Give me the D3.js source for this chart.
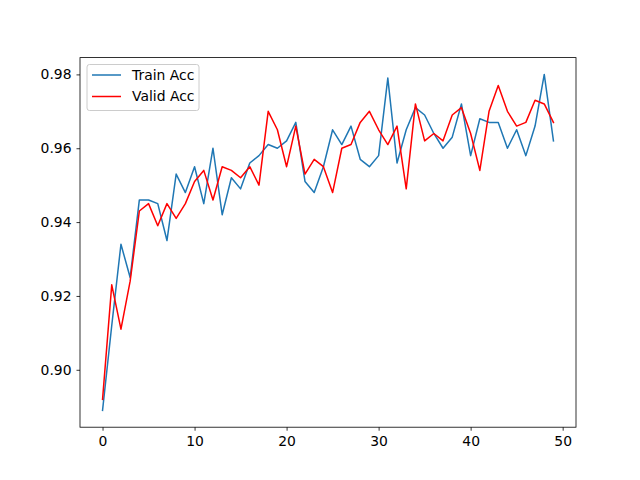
<!DOCTYPE html>
<html>
<head>
<meta charset="utf-8">
<script src="https://cdn.jsdelivr.net/npm/d3@7"></script>
<style>
body { margin: 0; background: #fff; }
svg { display: block; font-family: "DejaVu Sans", sans-serif; }
</style>
</head>
<body>
<svg id="chart" width="640" height="480"></svg>
<script>
const epochs = d3.range(50);
const trainAcc = [0.889, 0.912, 0.934, 0.925, 0.946, 0.946, 0.945, 0.935, 0.953, 0.948,
  0.955, 0.945, 0.960, 0.942, 0.952, 0.949, 0.956, 0.958, 0.961, 0.960,
  0.962, 0.967, 0.951, 0.948, 0.955, 0.965, 0.961, 0.966, 0.957, 0.955,
  0.958, 0.979, 0.956, 0.965, 0.971, 0.969, 0.964, 0.960, 0.963, 0.972,
  0.958, 0.968, 0.967, 0.967, 0.960, 0.965, 0.958, 0.966, 0.980, 0.962];
const validAcc = [0.892, 0.923, 0.911, 0.924, 0.943, 0.945, 0.939, 0.945, 0.941, 0.945,
  0.951, 0.954, 0.946, 0.955, 0.954, 0.952, 0.955, 0.950, 0.970, 0.965,
  0.955, 0.966, 0.953, 0.957, 0.955, 0.948, 0.960, 0.961, 0.967, 0.970,
  0.965, 0.961, 0.966, 0.949, 0.972, 0.962, 0.964, 0.962, 0.969, 0.971,
  0.964, 0.954, 0.970, 0.977, 0.970, 0.966, 0.967, 0.973, 0.972, 0.967];
const xTicks = [0, 10, 20, 30, 40, 50];
const yTicks = [0.90, 0.92, 0.94, 0.96, 0.98];
const seriesNames = ["Train Acc", "Valid Acc"];
const seriesColors = ["#1f77b4", "#ff0000"];

const svg = d3.select("#chart");
const pLeft = 80, pRight = 576, pTop = 57.6, pBottom = 427.2;

const xMin = 0, xMax = 49, xPad = (xMax - xMin) * 0.05;
const allVals = trainAcc.concat(validAcc);
const yMin = d3.min(allVals), yMax = d3.max(allVals), yPad = (yMax - yMin) * 0.05;

const x = d3.scaleLinear().domain([xMin - xPad, xMax + xPad]).range([pLeft, pRight]);
const y = d3.scaleLinear().domain([yMin - yPad, yMax + yPad]).range([pBottom, pTop]);

const line = d3.line().x((d, i) => x(epochs[i])).y(d => y(d));

const series = [trainAcc, validAcc];
series.forEach((s, k) => {
  svg.append("path").datum(s)
    .attr("d", line)
    .attr("fill", "none")
    .attr("stroke", seriesColors[k])
    .attr("stroke-width", 1.5)
    .attr("stroke-linejoin", "round")
    .attr("stroke-linecap", "square");
});

// axes
const xAxis = svg.append("g").attr("transform", `translate(0,${pBottom})`)
  .call(d3.axisBottom(x).tickValues(xTicks).tickFormat(d3.format("d")).tickSize(3.5).tickPadding(5));
const yAxis = svg.append("g").attr("transform", `translate(${pLeft},0)`)
  .call(d3.axisLeft(y).tickValues(yTicks).tickFormat(d3.format(".2f")).tickSize(3.5).tickPadding(5));
[xAxis, yAxis].forEach(g => {
  g.select(".domain").remove();
  g.selectAll("line").attr("stroke", "#000").attr("stroke-width", 0.8);
  g.selectAll("text").attr("font-size", "13.9px").attr("fill", "#000")
    .attr("font-family", "DejaVu Sans, sans-serif");
});

// frame
svg.append("rect").attr("x", pLeft).attr("y", pTop)
  .attr("width", pRight - pLeft).attr("height", pBottom - pTop)
  .attr("fill", "none").attr("stroke", "#000").attr("stroke-width", 0.8);

// legend
const lg = svg.append("g");
lg.append("rect").attr("x", 87).attr("y", 64.5).attr("width", 112).attr("height", 46)
  .attr("rx", 2.5).attr("fill", "#fff").attr("fill-opacity", 0.8)
  .attr("stroke", "#cccccc").attr("stroke-width", 1);
seriesNames.forEach((name, k) => {
  const cy = 75 + k * 21.5;
  lg.append("line").attr("x1", 92).attr("x2", 121).attr("y1", cy).attr("y2", cy)
    .attr("stroke", seriesColors[k]).attr("stroke-width", 1.5);
  lg.append("text").attr("x", 132).attr("y", cy).attr("dy", "0.35em")
    .attr("font-size", "13.9px").attr("fill", "#000").text(name);
});
</script>
</body>
</html>
